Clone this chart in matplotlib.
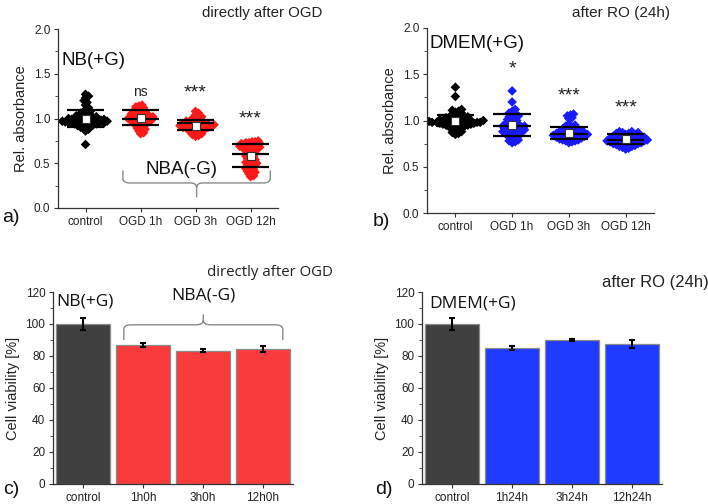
import numpy as np
import matplotlib
matplotlib.use("Agg")
import matplotlib.pyplot as plt
from matplotlib.path import Path
from matplotlib.patches import PathPatch

plt.rcParams['font.family'] = ['Liberation Sans', 'DejaVu Sans']

# ---------------- data ----------------
scatter_cats = ["control", "OGD 1h", "OGD 3h", "OGD 12h"]

a_ctrl = [0.71, 0.86, 0.88, 0.89, 0.90, 0.91, 0.92, 0.92, 0.93, 0.93, 0.94, 0.94, 0.94, 0.95, 0.95,
          0.95, 0.95, 0.96, 0.96, 0.96, 0.96, 0.97, 0.97, 0.97, 0.97, 0.98, 0.98, 0.98, 0.98, 0.99,
          0.99, 0.99, 1.00, 1.00, 1.00, 1.01, 1.01, 1.02, 1.02, 1.03, 1.03, 1.04, 1.05, 1.06, 1.07,
          1.08, 1.10, 1.12, 1.15, 1.18, 1.20, 1.23, 1.25, 1.27]
a_1h = [0.83, 0.84, 0.86, 0.87, 0.88, 0.89, 0.90, 0.91, 0.92, 0.93, 0.94, 0.95, 0.95, 0.96, 0.96,
        0.97, 0.97, 0.98, 0.98, 0.99, 0.99, 1.00, 1.00, 1.00, 1.01, 1.01, 1.02, 1.02, 1.03, 1.03,
        1.04, 1.04, 1.05, 1.05, 1.06, 1.07, 1.08, 1.08, 1.09, 1.10, 1.11, 1.12, 1.13, 1.14, 1.15]
a_3h = [0.80, 0.81, 0.82, 0.83, 0.84, 0.85, 0.86, 0.86, 0.87, 0.88, 0.88, 0.89, 0.89, 0.90, 0.90,
        0.90, 0.91, 0.91, 0.91, 0.92, 0.92, 0.92, 0.93, 0.93, 0.93, 0.94, 0.94, 0.94, 0.95, 0.95,
        0.96, 0.96, 0.97, 0.97, 0.98, 0.99, 1.00, 1.01, 1.02, 1.04, 1.06, 1.08]
a_12h = [0.35, 0.36, 0.38, 0.39, 0.40, 0.41, 0.42, 0.43, 0.44, 0.45, 0.46, 0.47, 0.48, 0.49, 0.50,
         0.50, 0.51, 0.52, 0.53, 0.54, 0.55, 0.56, 0.57, 0.58, 0.59, 0.60, 0.61, 0.62, 0.63, 0.64,
         0.65, 0.65, 0.66, 0.67, 0.67, 0.68, 0.68, 0.69, 0.69, 0.70, 0.70, 0.71, 0.71, 0.72, 0.72,
         0.73, 0.73, 0.74, 0.74, 0.75]
# summary lines (upper, middle, lower) and mean square
a_upper = [1.09, 1.09, 0.98, 0.71]
a_mid = [0.97, 1.00, 0.95, 0.60]
a_lower = [0.91, 0.93, 0.87, 0.46]
a_mean = [1.00, 1.01, 0.92, 0.58]
a_sig = ["", "ns", "***", "***"]
a_sig_y = [0, 1.30, 1.28, 1.00]

b_ctrl = [0.85, 0.86, 0.87, 0.88, 0.89, 0.90, 0.91, 0.92, 0.93, 0.93, 0.94, 0.94, 0.95, 0.95, 0.95,
          0.96, 0.96, 0.96, 0.97, 0.97, 0.97, 0.97, 0.98, 0.98, 0.98, 0.98, 0.98, 0.98, 0.99, 0.99,
          0.99, 0.99, 1.00, 1.00, 1.00, 1.00, 1.01, 1.01, 1.01, 1.02, 1.02, 1.03, 1.03, 1.04, 1.04,
          1.05, 1.06, 1.07, 1.08, 1.09, 1.10, 1.11, 1.12, 1.26, 1.36]
b_1h = [0.76, 0.77, 0.78, 0.79, 0.80, 0.81, 0.82, 0.83, 0.84, 0.85, 0.86, 0.86, 0.87, 0.87, 0.88,
        0.88, 0.89, 0.89, 0.90, 0.90, 0.91, 0.91, 0.92, 0.92, 0.93, 0.93, 0.94, 0.94, 0.95, 0.95,
        0.96, 0.96, 0.97, 0.98, 0.99, 1.00, 1.01, 1.02, 1.03, 1.04, 1.05, 1.06, 1.07, 1.08, 1.10,
        1.12, 1.20, 1.32]
b_3h = [0.76, 0.77, 0.78, 0.78, 0.79, 0.79, 0.80, 0.80, 0.81, 0.81, 0.82, 0.82, 0.82, 0.83, 0.83,
        0.83, 0.84, 0.84, 0.84, 0.85, 0.85, 0.85, 0.86, 0.86, 0.86, 0.87, 0.87, 0.87, 0.88, 0.88,
        0.89, 0.89, 0.90, 0.90, 0.91, 0.92, 0.93, 0.94, 0.95, 0.96, 1.02, 1.03, 1.05, 1.06, 1.07]
b_12h = [0.69, 0.70, 0.71, 0.72, 0.72, 0.73, 0.73, 0.74, 0.74, 0.75, 0.75, 0.75, 0.76, 0.76, 0.76,
         0.77, 0.77, 0.77, 0.78, 0.78, 0.78, 0.78, 0.79, 0.79, 0.79, 0.79, 0.80, 0.80, 0.80, 0.81,
         0.81, 0.81, 0.82, 0.82, 0.82, 0.83, 0.83, 0.83, 0.84, 0.84, 0.85, 0.85, 0.86, 0.86, 0.87,
         0.87, 0.88, 0.88]
b_upper = [1.06, 1.07, 0.93, 0.85]
b_mid = [0.98, 0.94, 0.85, 0.79]
b_lower = [0.94, 0.83, 0.80, 0.75]
b_mean = [1.00, 0.95, 0.87, 0.80]
b_sig = ["", "*", "***", "***"]
b_sig_y = [0, 1.56, 1.27, 1.14]

c_cats = ["control", "1h0h", "3h0h", "12h0h"]
c_vals = [100.0, 86.9, 83.2, 84.4]
c_err = [3.5, 1.2, 0.9, 2.0]

d_cats = ["control", "1h24h", "3h24h", "12h24h"]
d_vals = [100.0, 84.8, 90.0, 87.7]
d_err = [3.5, 1.3, 0.9, 2.4]

# ---------------- helpers ----------------
W, H = 708, 504
fig = plt.figure(figsize=(W / 100, H / 100), dpi=100)


def ax_px(left, right, top, bottom):
    return fig.add_axes([left / W, (H - bottom) / H, (right - left) / W, (bottom - top) / H])


def style(ax):
    for s in ("top", "right"):
        ax.spines[s].set_visible(False)
    for s in ("left", "bottom"):
        ax.spines[s].set_color("#333333")
        ax.spines[s].set_linewidth(0.9)
    ax.tick_params(axis="both", direction="out", length=3, width=0.8, labelsize=8.5, colors="#333333",
                   labelcolor="#222222", pad=2.5)
    ax.tick_params(axis="y", which="minor", direction="out", length=2, width=0.6, colors="#333333")


def swarm_offsets(vals, xs, ys, d):
    """beeswarm offsets; xs, ys = pixels per data unit; d = min distance px"""
    order = np.argsort(vals)
    placed = []
    offs = np.zeros(len(vals))
    step = d * 0.5
    for i in order:
        y = vals[i] * ys
        k = 0
        while True:
            cands = [0.0] if k == 0 else [k * step, -k * step]
            ok_c = None
            for cx in cands:
                if all((cx - px) ** 2 + (y - py) ** 2 >= d * d for px, py in placed):
                    ok_c = cx
                    break
            if ok_c is not None:
                placed.append((ok_c, y))
                offs[i] = ok_c / xs
                break
            k += 1
    return offs


def brace(ax, x0, x1, yend, ybar, ytip, rx, ry, color="#8a8a8a"):
    xc = (x0 + x1) / 2
    sgn = 1 if ytip < ybar else -1  # tip below bar -> ends above
    verts = [(x0, yend), (x0, ybar + sgn * ry), (x0, ybar), (x0 + rx, ybar),
             (xc - rx, ybar), (xc, ybar), (xc, ybar - sgn * ry), (xc, ytip),
             (xc, ybar - sgn * ry), (xc, ybar), (xc + rx, ybar),
             (x1 - rx, ybar), (x1, ybar), (x1, ybar + sgn * ry), (x1, yend)]
    codes = [Path.MOVETO, Path.LINETO, Path.CURVE3, Path.CURVE3,
             Path.LINETO, Path.CURVE3, Path.CURVE3, Path.LINETO,
             Path.MOVETO, Path.CURVE3, Path.CURVE3,
             Path.LINETO, Path.CURVE3, Path.CURVE3, Path.LINETO]
    ax.add_patch(PathPatch(Path(verts, codes), fill=False, edgecolor=color, lw=1.0))


def scatter_panel(ax, groups, colors, upper, mid, lower, mean, sig, sig_y, xs, ys):
    pos = np.arange(1, 5)
    for p, g, c in zip(pos, groups, colors):
        g = np.array(g)
        off = swarm_offsets(g, xs, ys, 3.1)
        ax.scatter(p + off, g, marker="D", s=24, color=c, edgecolors="none", zorder=2)
    hw = 0.33
    for p, u, m, l in zip(pos, upper, mid, lower):
        for v in (u, m, l):
            ax.plot([p - hw, p + hw], [v, v], color="black", lw=1.6, zorder=3, solid_capstyle="butt")
    ax.scatter(pos, mean, marker="s", s=26, facecolor="white", edgecolor="#333333", lw=0.8, zorder=4)
    for p, s, y in zip(pos, sig, sig_y):
        if s:
            ax.text(p, y, s, ha="center", va="center", fontsize=10 if s == "ns" else 14, color="#222222")
    ax.set_xlim(0.5, 4.5)
    ax.set_ylim(0, 2.0)
    ax.set_xticks(pos)
    ax.set_xticklabels(scatter_cats)
    ax.set_yticks([0, 0.5, 1.0, 1.5, 2.0])
    ax.set_yticklabels(["0.0", "0.5", "1.0", "1.5", "2.0"])
    ax.set_yticks(np.arange(0.25, 2.0, 0.5), minor=True)
    ax.set_ylabel("Rel. absorbance", fontsize=10.5, color="#222222", labelpad=4)
    style(ax)


# ---------------- panel a ----------------
axa = ax_px(58, 278, 29, 208)
scatter_panel(axa, [a_ctrl, a_1h, a_3h, a_12h], ["black", "#ff1a1a", "#ff1a1a", "#ff1a1a"],
              a_upper, a_mid, a_lower, a_mean, a_sig, a_sig_y, 55.0, 89.5)
axa.text(0.56, 1.65, "NB(+G)", fontsize=13.5, ha="left", va="center", color="#111111")
axa.text(2.75, 0.43, "NBA(-G)", fontsize=13.5, ha="center", va="center", color="#111111")
brace(axa, 1.68, 4.36, 0.42, 0.28, 0.12, 0.12, 0.05)

# ---------------- panel b ----------------
axb = ax_px(427, 654, 28, 213)
scatter_panel(axb, [b_ctrl, b_1h, b_3h, b_12h], ["black", "#1a1aff", "#1a1aff", "#1a1aff"],
              b_upper, b_mid, b_lower, b_mean, b_sig, b_sig_y, 56.7, 92.5)
axb.text(0.55, 1.83, "DMEM(+G)", fontsize=13.5, ha="left", va="center", color="#111111")

# ---------------- panel c ----------------
def bar_panel(ax, cats, vals, errs, color):
    pos = np.arange(1, 5)
    cols = ["#404040"] + [color] * 3
    ax.bar(pos, vals, width=0.9, color=cols, edgecolor="#8a8a8a", lw=0.9, zorder=2)
    ax.errorbar(pos, vals, yerr=errs, fmt="none", ecolor="black", elinewidth=1.5, capsize=2.5,
                capthick=1.5, zorder=3)
    ax.set_xlim(0.5, 4.5)
    ax.set_ylim(0, 120)
    ax.set_xticks(pos)
    ax.set_xticklabels(cats)
    ax.set_yticks(np.arange(0, 121, 20))
    ax.set_yticks(np.arange(10, 120, 20), minor=True)
    ax.set_ylabel("Cell viability [%]", fontsize=10.5, color="#222222", labelpad=4)
    style(ax)


axc = ax_px(53, 293, 292, 484)
bar_panel(axc, c_cats, c_vals, c_err, "#fa3b3b")
axc.text(0.55, 114, "NB(+G)", fontsize=12.5, ha="left", va="center", color="#111111",
         family=["Open Sans", "DejaVu Sans"])
axc.text(3.0, 118, "NBA(-G)", fontsize=12.5, ha="center", va="center", color="#111111",
         family=["Open Sans", "DejaVu Sans"])
brace(axc, 1.68, 4.33, 90, 99.5, 106, 0.12, 3.0)

# ---------------- panel d ----------------
axd = ax_px(422, 662, 292, 484)
bar_panel(axd, d_cats, d_vals, d_err, "#1f3bff")
axd.text(0.62, 113, "DMEM(+G)", fontsize=12.5, ha="left", va="center", color="#111111",
         family=["Open Sans", "DejaVu Sans"])

# ---------------- titles & panel labels ----------------
fig.text(262 / W, 1 - 13 / H, "directly after OGD", fontsize=10.8, ha="center", va="center", color="#222222")
fig.text(621 / W, 1 - 13 / H, "after RO (24h)", fontsize=11, ha="center", va="center", color="#222222")
fig.text(270 / W, 1 - 273 / H, "directly after OGD", fontsize=10.8, ha="center", va="center", color="#222222",
         family=["Open Sans", "DejaVu Sans"])
fig.text(655 / W, 1 - 282 / H, "after RO (24h)", fontsize=12, ha="center", va="center", color="#222222")

for lbl, x, y in [("a)", 11, 218), ("b)", 381, 222), ("c)", 11, 490), ("d)", 384, 490)]:
    fig.text(x / W, 1 - y / H, lbl, fontsize=14, ha="center", va="center", color="#111111")

fig.savefig("out.png", dpi=100)
